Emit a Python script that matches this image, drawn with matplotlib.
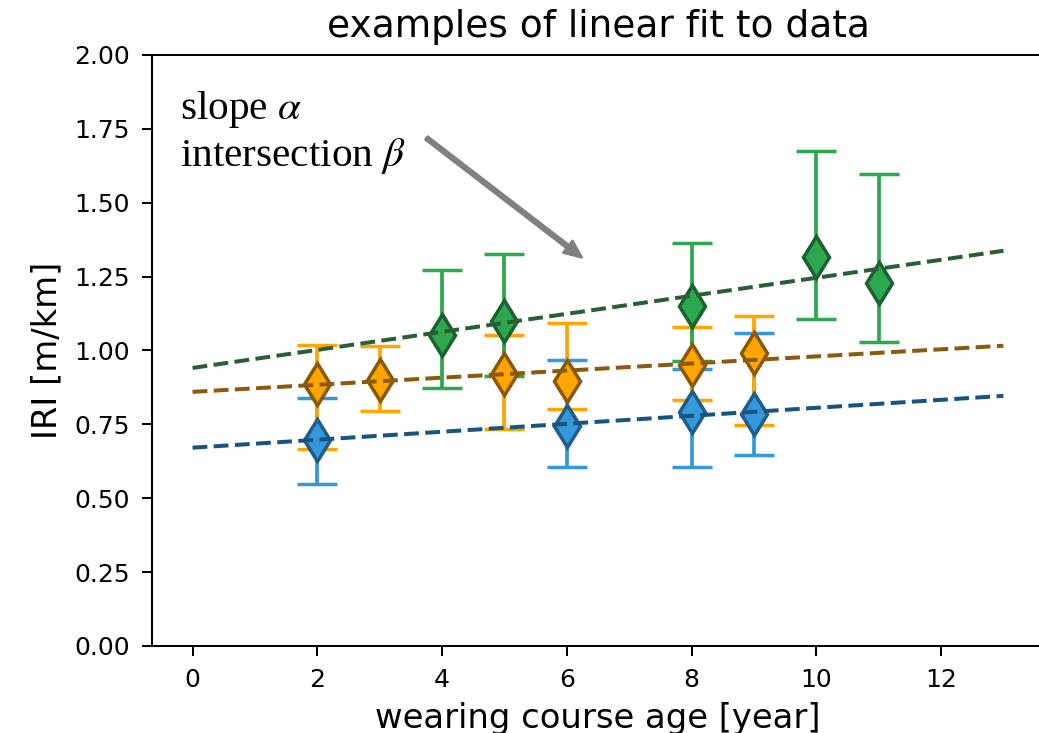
import matplotlib
matplotlib.use('Agg')
import matplotlib.pyplot as plt
import numpy as np

plt.rcParams['mathtext.fontset'] = 'stix'

# measured IRI per wearing course age, three road sections
age_blue = [2, 6, 8, 9]
iri_blue = [0.698, 0.745, 0.792, 0.786]
err_blue_lo = [0.151, 0.140, 0.186, 0.141]
err_blue_hi = [0.142, 0.224, 0.145, 0.274]

age_orange = [2, 3, 5, 6, 8, 9]
iri_orange = [0.885, 0.899, 0.919, 0.897, 0.952, 0.991]
err_orange_lo = [0.220, 0.105, 0.185, 0.096, 0.119, 0.243]
err_orange_hi = [0.135, 0.116, 0.134, 0.196, 0.127, 0.127]

age_green = [4, 5, 8, 10, 11]
iri_green = [1.054, 1.101, 1.152, 1.315, 1.227]
err_green_lo = [0.181, 0.189, 0.189, 0.210, 0.199]
err_green_hi = [0.220, 0.224, 0.212, 0.361, 0.371]

# fitted lines: intersection beta, slope alpha
beta = {'blue': 0.671, 'orange': 0.860, 'green': 0.941}
alpha = {'blue': 0.0135, 'orange': 0.0120, 'green': 0.0305}
x_fit = np.array([0, 13])

series = [
    ('blue', age_blue, iri_blue, err_blue_lo, err_blue_hi, '#3498db', '#1f5d8a', '#17557f'),
    ('orange', age_orange, iri_orange, err_orange_lo, err_orange_hi, '#ffa500', '#8a5800', '#8b5a0c'),
    ('green', age_green, iri_green, err_green_lo, err_green_hi, '#2ea84f', '#1d6131', '#2a5e35'),
]

fig = plt.figure(figsize=(1039 / 180, 733 / 180), dpi=180)
ax = fig.add_axes([0.1463, 0.1187, 0.8585, 0.8063])

for name, xs, ys, lo, hi, col, edge, lcol in series:
    ax.errorbar(xs, ys, yerr=[lo, hi], fmt='d', ms=12, color=col,
                mec=edge, mew=1.4, ecolor=col, elinewidth=1.5, capsize=8, capthick=1.5)
    ax.plot(x_fit, beta[name] + alpha[name] * x_fit, '--', color=lcol, lw=1.6, zorder=3)

ax.text(-0.2, 1.625, 'slope $\\alpha$\nintersection $\\beta$', family='Liberation Serif',
        fontsize=16.5, ha='left', va='baseline')
ax.annotate('', xy=(6.24, 1.315), xytext=(3.75, 1.719),
            arrowprops=dict(color='gray', width=1.5, headwidth=6, headlength=7))

ax.set_xlim(-0.65, 13.65)
ax.set_ylim(0, 2)
ax.set_xticks([0, 2, 4, 6, 8, 10, 12])
ax.set_yticks(np.arange(0, 2.01, 0.25))
ax.yaxis.set_major_formatter(matplotlib.ticker.FormatStrFormatter('%.2f'))
ax.tick_params(length=4, pad=5, labelsize=10)
ax.set_xlabel('wearing course age [year]', fontsize=13.5)
ax.set_ylabel('IRI [m/km]', fontsize=13.5)
ax.set_title('examples of linear fit to data', fontsize=15, pad=7)

fig.savefig('out.png', dpi=180)
